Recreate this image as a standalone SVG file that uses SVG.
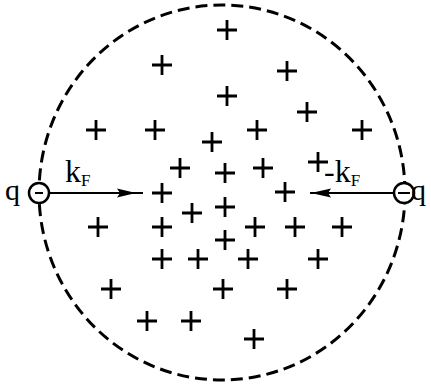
<svg xmlns="http://www.w3.org/2000/svg" width="431" height="389" viewBox="0 0 431 389">
<defs>
<style>
.p{stroke:#000;stroke-width:2.8;fill:none}
.ln{stroke:#000;stroke-width:2;fill:none}
.t{font-family:"Liberation Serif",serif;fill:#000}
</style>
<path id="plus" d="M-10,0H10M0,-10V10" class="p"/>
</defs>
<rect width="431" height="389" fill="#fff"/>
<g id="region">
<ellipse cx="222" cy="192.5" rx="183" ry="187.5" fill="none" stroke="#000" stroke-width="3" stroke-dasharray="12 6"/>
</g>
<g id="charges">
<use href="#plus" x="227" y="30"/>
<use href="#plus" x="162" y="65"/>
<use href="#plus" x="287" y="71"/>
<use href="#plus" x="227" y="96"/>
<use href="#plus" x="307" y="112"/>
<use href="#plus" x="96" y="130"/>
<use href="#plus" x="155" y="130"/>
<use href="#plus" x="212" y="142"/>
<use href="#plus" x="257" y="130"/>
<use href="#plus" x="362" y="130"/>
<use href="#plus" x="180" y="168"/>
<use href="#plus" x="225" y="173"/>
<use href="#plus" x="263" y="168"/>
<use href="#plus" x="318" y="162"/>
<use href="#plus" x="162" y="193"/>
<use href="#plus" x="285" y="192"/>
<use href="#plus" x="192" y="213"/>
<use href="#plus" x="225" y="207"/>
<use href="#plus" x="98" y="227"/>
<use href="#plus" x="162" y="227"/>
<use href="#plus" x="255" y="227"/>
<use href="#plus" x="295" y="227"/>
<use href="#plus" x="342" y="227"/>
<use href="#plus" x="225" y="240"/>
<use href="#plus" x="162" y="259"/>
<use href="#plus" x="198" y="259"/>
<use href="#plus" x="248" y="259"/>
<use href="#plus" x="318" y="259"/>
<use href="#plus" x="111" y="289"/>
<use href="#plus" x="223" y="289"/>
<use href="#plus" x="287" y="289"/>
<use href="#plus" x="147" y="321"/>
<use href="#plus" x="191" y="321"/>
<use href="#plus" x="254" y="339"/>
</g>
<g id="qLeft">
<circle cx="39" cy="193" r="10" fill="#fff" stroke="#000" stroke-width="2.5"/>
<path d="M35,193H43" class="ln"/>
<text x="5" y="200" class="t" font-size="30">q</text>
</g>
<g id="qRight">
<circle cx="404" cy="193" r="10" fill="#fff" stroke="#000" stroke-width="2.5"/>
<path d="M398,193H410" class="ln"/>
<text x="411" y="200" class="t" font-size="30">q</text>
</g>
<g id="connectors">
<path d="M49,193H143" class="ln"/>
<polygon points="136,193 117,188.5 120,193 117,197.5" fill="#000"/>
<path d="M394,193H310" class="ln"/>
<polygon points="311,193 331,188.5 328,193 331,197.5" fill="#000"/>
</g>
<g id="labels">
<text x="65" y="182" class="t" font-size="32">k<tspan font-size="17" dy="4">F</tspan></text>
<text x="324" y="182" class="t" font-size="32">-k<tspan font-size="17" dy="4">F</tspan></text>
</g>
</svg>
